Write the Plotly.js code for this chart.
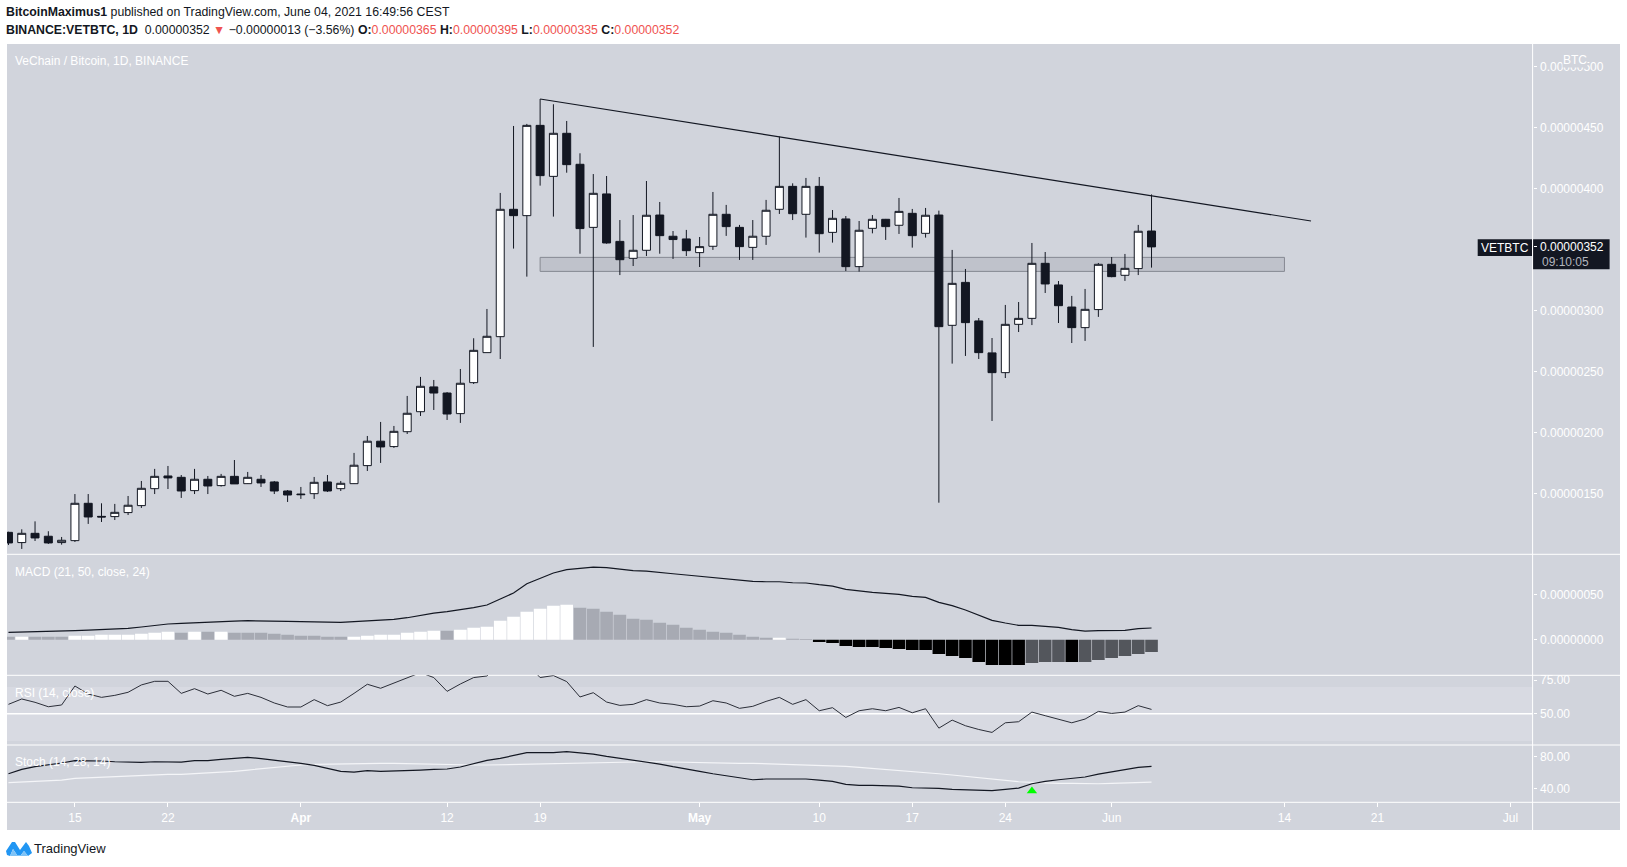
<!DOCTYPE html>
<html>
<head>
<meta charset="utf-8">
<script src="https://cdn.plot.ly/plotly-3.0.1.min.js"></script>
<style>html,body{margin:0;padding:0;background:#fff;overflow:hidden}#chart{width:1627px;height:867px}</style>
</head>
<body>
<div id="chart"></div>
<script>
// all prices are in units of 0.00000001 BTC
const dates = ["2021-03-10","2021-03-11","2021-03-12","2021-03-13","2021-03-14","2021-03-15","2021-03-16","2021-03-17","2021-03-18","2021-03-19","2021-03-20","2021-03-21","2021-03-22","2021-03-23","2021-03-24","2021-03-25","2021-03-26","2021-03-27","2021-03-28","2021-03-29","2021-03-30","2021-03-31",
"2021-04-01","2021-04-02","2021-04-03","2021-04-04","2021-04-05","2021-04-06","2021-04-07","2021-04-08","2021-04-09","2021-04-10","2021-04-11","2021-04-12","2021-04-13","2021-04-14","2021-04-15","2021-04-16","2021-04-17","2021-04-18","2021-04-19","2021-04-20","2021-04-21","2021-04-22","2021-04-23","2021-04-24","2021-04-25","2021-04-26","2021-04-27","2021-04-28","2021-04-29","2021-04-30",
"2021-05-01","2021-05-02","2021-05-03","2021-05-04","2021-05-05","2021-05-06","2021-05-07","2021-05-08","2021-05-09","2021-05-10","2021-05-11","2021-05-12","2021-05-13","2021-05-14","2021-05-15","2021-05-16","2021-05-17","2021-05-18","2021-05-19","2021-05-20","2021-05-21","2021-05-22","2021-05-23","2021-05-24","2021-05-25","2021-05-26","2021-05-27","2021-05-28","2021-05-29","2021-05-30","2021-05-31",
"2021-06-01","2021-06-02","2021-06-03","2021-06-04"];
const open = [118,109.6,117.2,114.8,109.6,111.2,141.8,131.1,130.9,134.2,139.9,153.8,164.2,163.1,152.2,161.5,156.3,163.9,157.9,161.5,159.3,151.9,
149.4,149.7,159.3,153.8,157.9,172.7,192.7,188.3,200.5,216.9,237.2,232.2,215.3,240.7,265.3,278.4,382.8,377.6,451.6,409.8,445.1,419.7,368,395.4,356.5,342.6,349.2,378.1,360.7,358.5,
347.3,352.5,378.7,368,351.6,360.7,382.8,401.6,378.7,401.6,363.9,374.9,335.8,367.2,374.6,369.7,379.5,363.1,378.1,287.7,322.9,291.3,265.1,248.9,288.5,293.4,338.5,320.8,302.7,285.8,300.6,
337.7,328.7,334.2,365];
const high = [118.5,120.5,127,118.9,114.2,149.4,149.4,141.8,141.3,147.8,160.1,170,172.4,165,170,164.2,165.9,177.3,167.5,165,160.1,152.7,
155.2,163.4,165,160.1,183.1,197,208.5,205.2,229.8,245.4,242.9,233,251.9,277.1,301.1,396.2,451.1,452.8,473.2,468.9,455.2,428.7,411.7,410.1,374,378.1,406,388.8,365,365.9,
360.1,397,386.4,370,374,390.5,442.4,404.1,408.5,409.3,382.2,377.3,373.2,378.1,374.9,392.1,383.1,383.9,381.7,349.5,333.9,293.7,277.3,304.4,306.8,355.2,347.8,324,311.8,317.5,338.8,
343.7,346.2,370,395];
const low = [107.6,104.4,110.9,108.5,107.9,110.1,124.9,126.5,128.1,132.2,138,149.4,153.5,146.2,149.4,149.4,155.5,157.7,157.7,155.2,149.4,142.9,
145.4,145.4,151.1,151.9,157.7,168.3,174.9,187.2,198.6,213.4,218.3,210.1,207.7,239.6,265.3,260.1,350.6,327.6,402.2,376.8,412.8,346.4,270,354.6,328.9,336.3,344.5,346.4,342.1,344.5,
335.5,349.5,361,341.3,341.3,353.6,379,374,359.6,347.3,355.5,332.2,331.7,363.1,357.7,362.6,351.4,359.6,142.3,256.3,262.6,260.1,209.3,244.5,282.2,287.9,314.2,289.6,273.2,274.9,294.6,
327.1,324.1,328.9,335];
const close = [109.3,117.2,113.4,109.3,111.5,141.8,130.6,130.6,134.4,140.2,154.1,163.9,162.6,151.9,161.5,156,163.9,157.7,163.1,158.5,151.9,148.6,
148.9,159,151.9,158.2,173,192.7,188,200.8,215.6,237.7,232.2,215,240.2,267.2,278.7,382.8,377.6,451.6,410.4,445.1,419.4,367,395.9,355.2,341.5,349.2,377.9,361.2,358,348.9,
352.2,378.7,368.6,352.2,360.7,382,401.6,379.2,401.6,362.8,375.4,335.8,365.6,374.6,368.6,381.1,361.2,377.9,286.6,322.1,289.9,265.3,248.9,288.5,293.4,338.5,321.6,303.8,285.8,300.8,337.7,
327.6,334.4,364.8,352];
const macdLine = [8.1,8.5,8.5,8.9,8.9,10,10.7,11.1,11.9,12.6,14.1,15.9,17.4,18.1,18.9,19.6,20.4,20.7,21.1,21.1,20.7,20.4,
20,19.6,19.3,19.3,20,20.7,21.5,22.6,24.4,27,29.6,31.1,33,35.6,38.5,45.6,51.9,62.2,68.5,74.1,77.8,78.9,80.7,80,78.1,76.7,76.3,75.2,73.3,71.9,
70.4,69.3,67.8,65.9,64.8,64.4,64.4,63.3,63,61.1,59.6,55.9,54.1,52.6,51.5,50.4,48.1,47,41.5,37.8,33,27.4,21.5,18.5,15.9,15.9,15.2,13.7,11.1,9.6,10,
10,10.4,12.2,13];
const macdHist = [3.2,3.2,3.2,3.2,3.2,4.3,4.3,5.4,5.4,5.4,6.5,7.6,8.7,7.6,8.7,8.7,8.7,7.6,7.6,7.6,6.5,5.4,
4.3,4.3,3.2,3.2,3.2,4.3,5.4,5.4,7.6,8.7,9.8,9.8,11,13.2,14.3,21,25.4,31,34.3,37.6,38.7,35.4,34.3,31,27.6,23.2,22.1,18.7,16.5,13.2,
11,8.7,7.6,5.4,3.2,2.1,2.1,1,0.7,-2.6,-3.7,-7,-8.1,-8.1,-9.3,-10.4,-11.5,-11.5,-15.9,-18.1,-20.4,-24.8,-28.1,-28.1,-28.1,-25.9,-24.8,-24.8,-24.8,-24.8,-22.6,
-20.4,-18.1,-15.9,-13.7];
const histShade = "GWGGGWWWWWWWWGWGWGGGGGGGGGWWWWWWWGWWWWWWWWWGGGGGGGGGGGGGGGWGGKKKKKKKKKKKKKKKKDDDKDDDDDD".split("");
const histPalette = {W:"#ffffff",G:"#a7aab3",K:"#000000",D:"#53565c"};
const rsi = [57,61,58.5,55.2,56.5,70.7,64.7,62.2,63.7,66,71.5,74.2,74.2,65.2,68.7,64.7,67.5,63,65.2,62.2,58,55,
55,60.5,56,58.7,65.2,72,69,72.7,76.5,80.7,77,66.7,72.2,77,78.2,87.7,85,87.7,77,78.5,74,62.5,65.7,58.7,56.2,57,60.5,58,57,55.2,
55.7,59.7,58,54,55.5,59.2,62.2,57,60.5,52.2,54.5,47.2,52.2,53.7,52.2,54.7,50.7,53.7,39.2,45.2,41,38.2,36,43.2,44,51.2,48.5,45.7,43.2,46,51.7,
50.2,51.2,56,53.2];
const stochK = [58.7,64.2,67.5,69.6,72.1,75,75,74.6,73.7,73.3,72.9,73.7,73.3,73.3,75,75,76.7,77.9,79.2,77.5,75.8,74.2,
71.7,69.2,65,61.7,60.8,62.5,61.7,62.1,62.1,63.3,64.2,64.6,67.1,71.7,75.4,77.9,81.2,85,85,85,86.2,84.6,83.3,80.4,77.9,76.2,73.7,70.8,67.5,64.2,
61.7,58.7,56.2,53.3,51.2,52.1,52.1,51.2,52.1,50.8,49.2,45.4,44.2,44.2,43.7,43.3,41.2,41.2,40.4,39.2,38.7,38.7,37.5,39.2,40.8,46.2,49.2,51.2,52.9,54.6,58.3,
61.2,64.2,66.7,67.9];
const stochD = [47.5,48.3,49.2,50,50.8,52.9,53.7,54.2,55,55.4,56.2,57.1,57.9,57.9,58.7,59.6,60.4,61.7,63.3,65,66.7,68.3,
69.6,70.4,70.8,70.8,71.2,71.7,71.7,71.7,71.2,70.8,70.4,70,69.6,69.6,69.6,70,70.4,70.8,71.2,71.7,72.1,72.5,72.9,72.9,72.9,73.3,73.7,73.7,73.3,72.5,
72.1,71.7,71.7,71.7,71.7,71.2,70.8,70,69.6,69.2,68.7,67.9,66.7,65.4,64.6,63.3,62.1,60.8,58.7,57.1,55.4,53.7,52.1,50.4,48.7,47.9,47.1,46.7,46.7,46.2,46.2,
46.7,47.1,47.9,48.3];
const crossDates = ["2021-05-26"];
const crossValues = [37];
const trendX = ["2021-04-19","2021-06-16"];
const trendY = [473.2,373.2];
const zoneX = ["2021-04-19","2021-06-14"];
const zoneY = [331.9,343.4];
const priceTicks = [150,200,250,300,352,400,450,500];
const priceLabels = ["0.00000150","0.00000200","0.00000250","0.00000300","0.00000352","0.00000400","0.00000450","0.00000500"];
const macdTicks = [0,50];
const macdLabels = ["0.00000000","0.00000050"];
const rsiTicks = [50,75];
const rsiLabels = ["50.00","75.00"];
const stochTicks = [40,80];
const stochLabels = ["40.00","80.00"];
const dateTicks = ["2021-03-15","2021-03-22","2021-04-01","2021-04-12","2021-04-19","2021-05-01","2021-05-10","2021-05-17","2021-05-24","2021-06-01","2021-06-14","2021-06-21","2021-07-01"];
const dateLabels = ["15","22","<b>Apr</b>","12","19","<b>May</b>","10","17","24","Jun","14","21","Jul"];

const W = 1627, H = 867;
const INK = "#131722", PANE = "#d1d4dc", BAND = "#d8dae2", LABEL = "#ffffff";
const FONT = '"Liberation Sans", Arial, sans-serif';
const paneL = 7, axisX = 1532.6, paneR = 1620, paneTop = 44, mainB = 554.3, macdB = 675.3, rsiB = 745, stochB = 802.3, paneEnd = 830;
const domY = (t, b) => [1 - b / H, 1 - t / H];
const fx = x => x / W, fy = y => 1 - y / H;

const traces = [
  {type:"candlestick", x:dates, open, high, low, close, xaxis:"x", yaxis:"y", whiskerwidth:0,
   increasing:{line:{color:INK,width:1}, fillcolor:"#ffffff"},
   decreasing:{line:{color:INK,width:1}, fillcolor:INK}, showlegend:false, hoverinfo:"skip"},
  {type:"scatter", mode:"lines", x:trendX, y:trendY, xaxis:"x", yaxis:"y", line:{color:INK,width:1.2}, showlegend:false, hoverinfo:"skip"},
  {type:"bar", x:dates, y:macdHist, xaxis:"x", yaxis:"y2", marker:{color:histShade.map(s=>histPalette[s]), line:{width:0}}, showlegend:false, hoverinfo:"skip"},
  {type:"scatter", mode:"lines", x:dates, y:macdLine, xaxis:"x", yaxis:"y2", line:{color:INK,width:1.2}, showlegend:false, hoverinfo:"skip"},
  {type:"scatter", mode:"lines", x:dates, y:rsi, xaxis:"x", yaxis:"y3", line:{color:"#2b2e38",width:1}, showlegend:false, hoverinfo:"skip"},
  {type:"scatter", mode:"lines", x:dates, y:stochD, xaxis:"x", yaxis:"y4", line:{color:"#f4f5f8",width:1.2}, showlegend:false, hoverinfo:"skip"},
  {type:"scatter", mode:"lines", x:dates, y:stochK, xaxis:"x", yaxis:"y4", line:{color:INK,width:1.2}, showlegend:false, hoverinfo:"skip"},
  {type:"scatter", mode:"markers", x:crossDates, y:crossValues, xaxis:"x", yaxis:"y4", marker:{symbol:"triangle-up",size:9,color:"#00ff00"}, showlegend:false, hoverinfo:"skip", cliponaxis:false}
];

const yAxisBase = {anchor:"x", side:"right", showgrid:false, zeroline:false, showline:false, ticks:"outside", ticklen:3, tickwidth:1, tickcolor:"#ffffff", tickmode:"array", tickfont:{family:FONT,size:12,color:LABEL}, fixedrange:true, ticklabelstandoff:1};

function paperLine(x0,y0,x1,y1,color,width){
  return {type:"line", xref:"paper", yref:"paper", x0:fx(x0), x1:fx(x1), y0:fy(y0), y1:fy(y1), line:{color,width}, layer:"below"};
}
function paperRect(x0,y0,x1,y1,color){
  return {type:"rect", xref:"paper", yref:"paper", x0:fx(x0), x1:fx(x1), y0:fy(y0), y1:fy(y1), fillcolor:color, line:{width:0}, layer:"below"};
}
function poly(pts,color){
  return {type:"path", xref:"paper", yref:"paper", path:"M"+pts.map(p=>fx(p[0])+" "+fy(p[1])).join("L")+"Z", fillcolor:color, line:{width:0}, layer:"above"};
}
const shapes = [
  paperRect(paneL,paneTop,paneR,paneEnd,PANE),
  paperRect(paneL,687,axisX,741,BAND),
  {type:"rect", xref:"x", yref:"y", x0:zoneX[0], x1:zoneX[1], y0:zoneY[0], y1:zoneY[1], fillcolor:"rgba(120,123,134,0.2)", line:{color:"#868992",width:1}, layer:"below"},
  {type:"line", xref:"paper", yref:"y3", x0:fx(paneL), x1:fx(axisX), y0:50, y1:50, line:{color:"#ffffff",width:1.6}, layer:"below"},
  paperLine(paneL,mainB,paneR,mainB,"#ffffff",1),
  paperLine(paneL,macdB,paneR,macdB,"#ffffff",1),
  paperLine(paneL,rsiB,paneR,rsiB,"#ffffff",1),
  paperLine(paneL,stochB,paneR,stochB,"#ffffff",1),
  paperLine(axisX,paneTop,axisX,paneEnd,"#ffffff",1),
  paperRect(1477.7,239.3,1532,256,INK),
  paperRect(axisX+0.5,239.3,1609.6,269.3,INK),
  poly([[6,851],[12,842],[15,842],[20,850],[26,842],[29,846],[32,853],[28,856],[24,851],[21,855],[17,855],[13,849],[10,856],[7,855]],"#2196f3"),
  poly([[10,856],[13,849],[17,855],[21,855],[24,851],[28,856]],"#7ec3f7")
];

function note(text,x,y,size,color,anchor,bg){
  const a = {text, xref:"paper", yref:"paper", x:fx(x), y:fy(y), xanchor:anchor||"left", yanchor:"middle", showarrow:false, font:{family:FONT,size,color}, borderpad:0, align:"left"};
  if(bg) a.bgcolor = bg;
  return a;
}
const RED = "#ef5350";
const red = t => `<span style="color:${RED}">${t}</span>`;
const annotations = [
  note("<b>BitcoinMaximus1</b> published on TradingView.com, June 04, 2021 16:49:56 CEST",5,12.5,12.3,INK),
  note(`<b>BINANCE:VETBTC, 1D</b>  0.00000352 ${red("▼")} −0.00000013 (−3.56%) <b>O:</b>${red("0.00000365")} <b>H:</b>${red("0.00000395")} <b>L:</b>${red("0.00000335")} <b>C:</b>${red("0.00000352")}`,5,29.6,12.3,INK),
  note("VeChain / Bitcoin, 1D, BINANCE",14,60.7,12,LABEL),
  note("MACD (21, 50, close, 24)",14,571.7,12,LABEL),
  note("RSI (14, close)",14,692.7,12,LABEL),
  note("Stoch (14, 28, 14)",14,762.3,12,LABEL),
  note("BTC",1575,60,12,LABEL,"center",PANE),
  note("VETBTC",1505,247.7,12,"#ffffff","center"),
  note("09:10:05",1541,262,12,"#b2b5be"),
  note("TradingView",32.5,848,13,INK)
];

const layout = {
  width:W, height:H, margin:{l:0,r:0,t:0,b:0,pad:0}, paper_bgcolor:"#ffffff", plot_bgcolor:"rgba(0,0,0,0)",
  hovermode:false, dragmode:false, showlegend:false, bargap:0.05, boxgap:0.4, boxgroupgap:0,
  xaxis:{type:"date", domain:[fx(paneL),fx(axisX)], range:["2021-03-09 21:22","2021-07-02 16:05"], anchor:"y4", rangeslider:{visible:false},
         showgrid:false, zeroline:false, showline:false, ticks:"outside", ticklen:4, tickwidth:1, tickcolor:"#ffffff",
         tickmode:"array", tickvals:dateTicks, ticktext:dateLabels, tickangle:0, tickfont:{family:FONT,size:12,color:LABEL}, fixedrange:true},
  yaxis:Object.assign({},yAxisBase,{domain:domY(paneTop,mainB), range:[100,518.3], tickvals:priceTicks, ticktext:priceLabels}),
  yaxis2:Object.assign({},yAxisBase,{domain:domY(mainB,macdB), range:[-39.6,94.9], tickvals:macdTicks, ticktext:macdLabels}),
  yaxis3:Object.assign({},yAxisBase,{domain:domY(macdB,rsiB), range:[26.6,78.7], tickvals:rsiTicks, ticktext:rsiLabels}),
  yaxis4:Object.assign({},yAxisBase,{domain:domY(rsiB,stochB), range:[23,94.6], tickvals:stochTicks, ticktext:stochLabels}),
  shapes, annotations
};
Plotly.newPlot("chart", traces, layout, {staticPlot:true, displayModeBar:false, responsive:false});
</script>
</body>
</html>
